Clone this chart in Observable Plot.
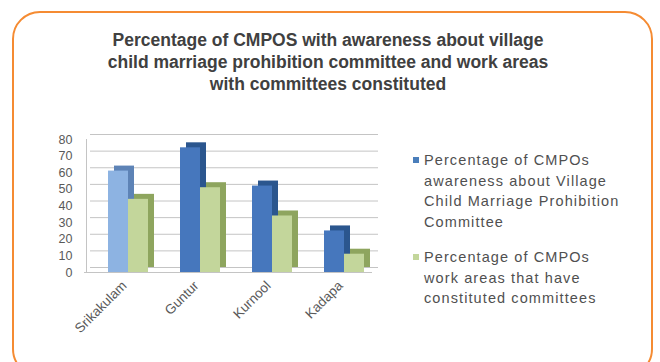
<!DOCTYPE html>
<html>
<head>
<meta charset="utf-8">
<script src="https://cdn.jsdelivr.net/npm/d3@7"></script>
<script src="https://cdn.jsdelivr.net/npm/@observablehq/plot@0.6"></script>
<style>
  html, body { margin: 0; padding: 0; background: #fff; }
  #page { position: relative; width: 660px; height: 362px; overflow: hidden; background: #fff; font-family: "Liberation Sans", Arial, sans-serif; }
  #frame { position: absolute; left: 12px; top: 11px; width: 641px; height: 366px; border: 2px solid #f58b32; border-radius: 28px; box-sizing: border-box; }
  #title { position: absolute; left: 8px; width: 640px; top: 29px; text-align: center; font-weight: bold; font-size: 17.5px; line-height: 22px; color: #404040; }
  #chart { position: absolute; left: 40px; top: 110px; }
  #legend { position: absolute; left: 413px; top: 150px; width: 240px; font-size: 14.5px; letter-spacing: 1.1px; line-height: 20.5px; color: #505050; white-space: nowrap; }
  .item { position: relative; padding-left: 11px; margin-bottom: 15px; }
  .sw { position: absolute; left: 0; top: 7px; width: 6px; height: 6px; }
</style>
</head>
<body>
<div id="page">
  <div id="frame"></div>
  <div id="title"></div>
  <div id="chart"></div>
  <div id="legend"></div>
</div>
<script>
const titleLines = [
  "Percentage of CMPOS with awareness about village",
  "child marriage prohibition committee and work areas",
  "with committees constituted"
];
const districts = ["Srikakulam", "Guntur", "Kurnool", "Kadapa"];
const awareness = [61, 75, 52, 25];
const constituted = [44, 51, 34, 11];
const yTicks = [0, 10, 20, 30, 40, 50, 60, 70, 80];
const seriesLabels = [
  ["Percentage of CMPOs", "awareness about Village", "Child Marriage Prohibition", "Committee"],
  ["Percentage of CMPOs", "work areas that have", "constituted committees"]
];
const seriesColors = ["#4a7ebb", "#c3d69b"];

document.getElementById("title").innerHTML = titleLines.join("<br>");

const table = districts.map((d, i) => ({district: d, awareness: awareness[i], constituted: constituted[i]}));

const blueFront = d => d.district === districts[0] ? "#8db3e2" : "#4677bd";
const blueSide = d => d.district === districts[0] ? "#5d83b6" : "#2b568e";

const chart = Plot.plot({
  width: 360,
  height: 250,
  marginLeft: 44,
  marginRight: 28,
  marginTop: 29,
  marginBottom: 88,
  style: {fontFamily: "Liberation Sans, Arial, sans-serif", fontSize: "12px", color: "#595959", background: "transparent"},
  x: {domain: districts, padding: 0, label: null},
  y: {domain: [0, 80], ticks: yTicks, label: null},
  marks: [
    Plot.ruleY(yTicks, {dx: 6, dy: -5, stroke: "#c4c4c4"}),
    Plot.ruleY([0], {stroke: "#c4c4c4"}),
    Plot.ruleX([districts[0]], {dx: -34, stroke: "#c4c4c4"}),
    Plot.barY(table, {x: "district", y: "awareness", fill: blueSide, insetLeft: 24, insetRight: 28, dx: 6, dy: -5}),
    Plot.barY(table, {x: "district", y: "awareness", fill: blueFront, insetLeft: 24, insetRight: 28}),
    Plot.barY(table, {x: "district", y: "constituted", fill: "#8ea55e", insetLeft: 44, insetRight: 8, dx: 6, dy: -5}),
    Plot.barY(table, {x: "district", y: "constituted", fill: "#c3d69b", insetLeft: 44, insetRight: 8}),
    Plot.axisY({ticks: yTicks, tickSize: 0, tickPadding: 12, fontSize: 12.5}),
    Plot.axisX({tickSize: 0, tickRotate: -45, tickPadding: 8, dx: 4, dy: 3, fontSize: 13.5})
  ]
});
document.getElementById("chart").appendChild(chart);

const legend = document.getElementById("legend");
seriesLabels.forEach((lines, i) => {
  const div = document.createElement("div");
  div.className = "item";
  div.innerHTML = `<span class="sw" style="background:${seriesColors[i]}"></span>${lines.join("<br>")}`;
  legend.appendChild(div);
});
</script>
</body>
</html>
